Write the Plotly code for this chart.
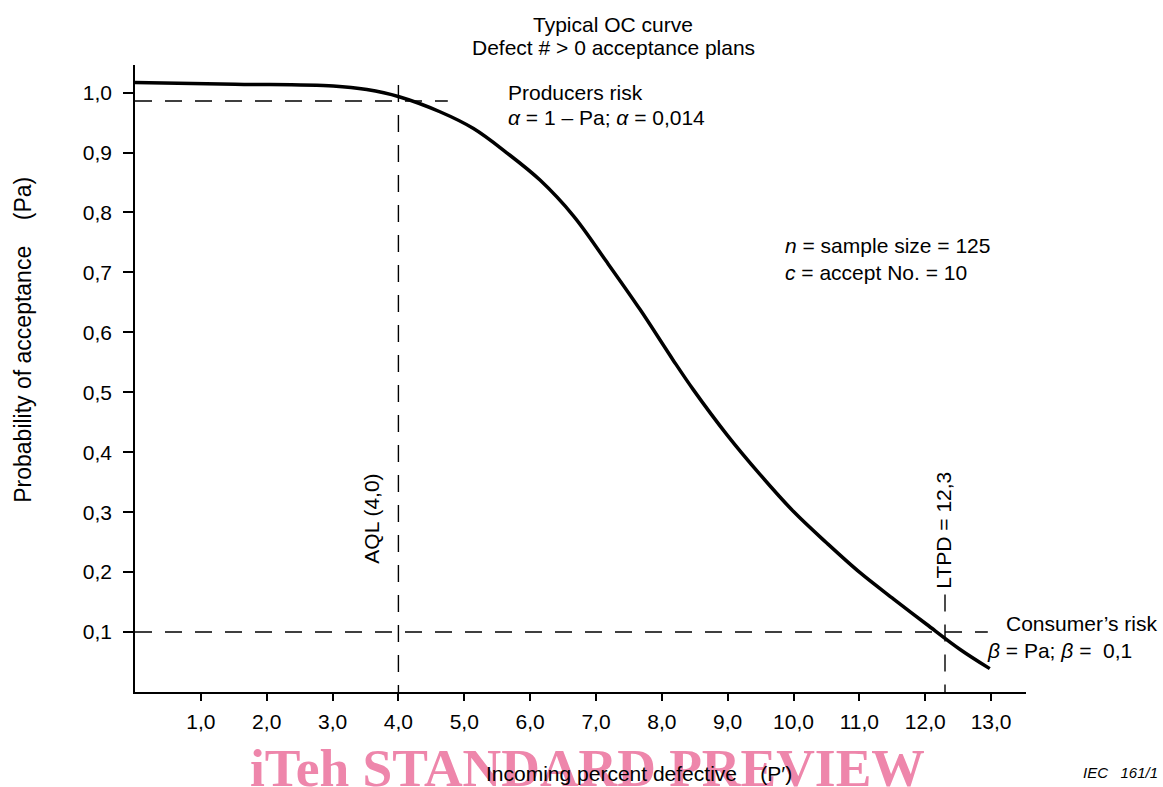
import plotly.graph_objects as go

# ---------------- data ----------------
# Incoming percent defective (P') and probability of acceptance (Pa)
oc_x = [0.00, 1.52, 3.01, 3.52, 4.01, 4.63, 5.14, 5.64, 6.15, 6.66, 7.16,
        7.67, 8.17, 8.48, 8.99, 9.49, 10.00, 10.50, 11.01, 11.52, 12.02,
        12.53, 12.98]
oc_y = [1.017, 1.014, 1.011, 1.005, 0.993, 0.968, 0.940, 0.900, 0.854,
        0.794, 0.718, 0.638, 0.554, 0.504, 0.429, 0.363, 0.301, 0.249,
        0.199, 0.155, 0.113, 0.071, 0.039]

x_tick_vals = [1, 2, 3, 4, 5, 6, 7, 8, 9, 10, 11, 12, 13]
x_tick_text = ["1,0", "2,0", "3,0", "4,0", "5,0", "6,0", "7,0", "8,0",
               "9,0", "10,0", "11,0", "12,0", "13,0"]
y_tick_vals = [0.1, 0.2, 0.3, 0.4, 0.5, 0.6, 0.7, 0.8, 0.9, 1.0]
y_tick_text = ["0,1", "0,2", "0,3", "0,4", "0,5", "0,6", "0,7", "0,8",
               "0,9", "1,0"]

aql = 4.0          # AQL
ltpd = 12.3        # LTPD
alpha = 0.014      # producer's risk
beta = 0.1         # consumer's risk
alpha_line_end = 4.75
beta_line_end = 12.95
aql_line_top = 1.0125
ltpd_line_top = 0.1625

x_range = [0.0, 13.53]
y_range = [0.0, 1.046]

# ---------------- layout helpers ----------------
W, H = 1163, 787
L, R, T, B = 135, 1026, 65, 692.5


def px(xp):
    return (xp - L) / (R - L)


def py(yp):
    return (B - yp) / (B - T)


FONT = "Liberation Sans, Arial, Helvetica, sans-serif"
FS = 21
DASH = "17px,13px"

fig = go.Figure()

fig.add_trace(go.Scatter(
    x=oc_x, y=oc_y, mode="lines",
    line=dict(color="black", width=3.5, shape="spline", smoothing=1.0),
    hoverinfo="skip", showlegend=False,
))

shapes = [
    dict(type="line", xref="x", yref="y", x0=x_range[0], x1=alpha_line_end,
         y0=1 - alpha, y1=1 - alpha, line=dict(color="black", width=1.4, dash=DASH)),
    dict(type="line", xref="x", yref="y", x0=x_range[0], x1=beta_line_end,
         y0=beta, y1=beta, line=dict(color="black", width=1.4, dash=DASH)),
    dict(type="line", xref="x", yref="y", x0=aql, x1=aql,
         y0=aql_line_top, y1=0, line=dict(color="black", width=1.4, dash=DASH)),
    dict(type="line", xref="x", yref="y", x0=ltpd, x1=ltpd,
         y0=ltpd_line_top, y1=0, line=dict(color="black", width=1.4, dash=DASH)),
]


def ann(text, xp, yp, xanchor="left", yanchor="middle", size=FS, angle=0,
        color="black", family=FONT):
    return dict(text=text, xref="paper", yref="paper", x=px(xp), y=py(yp),
                xanchor=xanchor, yanchor=yanchor, showarrow=False,
                textangle=angle, font=dict(family=family, size=size, color=color))


NB = "\u00a0"
annotations = [
    # watermark (drawn first, so the axis title sits on top)
    ann("<b>iTeh STANDARD PREVIEW</b>", 587.5, 768.5, xanchor="center",
        size=53.5, color="#ee86ab", family="Liberation Serif, Times New Roman, serif"),
    ann("Typical OC curve", 613, 24.4, xanchor="center"),
    ann("Defect # > 0 acceptance plans", 613, 47, xanchor="center"),
    ann("Producers risk", 506, 92.7),
    ann("<i>α</i> = 1 – Pa; <i>α</i> = 0,014", 506, 117.7),
    ann("<i>n</i> = sample size = 125", 783, 246),
    ann("<i>c</i> = accept No. = 10", 783, 272.7),
    ann("Consumer’s risk", 1004, 624.4),
    ann("<i>β</i> = Pa; <i>β</i> =" + NB + NB + "0,1", 985, 651),
    ann("AQL (4,0)", 372, 519, xanchor="center", angle=-90),
    ann("LTPD = 12,3", 944, 531, xanchor="center", angle=-90),
    ann("Probability of acceptance" + NB * 4 + "(Pa)", 23, 340,
        xanchor="center", angle=-90, size=23),
    ann("Incoming percent defective" + NB + NB + NB + " (P′)", 639, 774.5,
        xanchor="center"),
    ann("<i>IEC" + NB + NB + NB + "161/1</i>", 1160, 773, xanchor="right", size=15),
]

axis_common = dict(showline=True, linecolor="black", linewidth=1.6,
                   ticks="outside", tickcolor="black", tickwidth=1.5,
                   showgrid=False, zeroline=False,
                   tickfont=dict(family=FONT, size=FS, color="black"))

fig.update_layout(
    width=W, height=H,
    margin=dict(l=L, r=W - R, t=T, b=H - B, pad=0),
    paper_bgcolor="white", plot_bgcolor="white",
    showlegend=False,
    xaxis=dict(range=x_range, tickvals=x_tick_vals, ticktext=x_tick_text,
               ticklen=7, ticklabelstandoff=3, **axis_common),
    yaxis=dict(range=y_range, tickvals=y_tick_vals, ticktext=y_tick_text,
               ticklen=10, ticklabelstandoff=7, **axis_common),
    shapes=shapes,
    annotations=annotations,
)

fig.write_html("out.html", config={"displayModeBar": False},
               post_script="document.body.style.margin='0';document.body.style.overflow='hidden';")
